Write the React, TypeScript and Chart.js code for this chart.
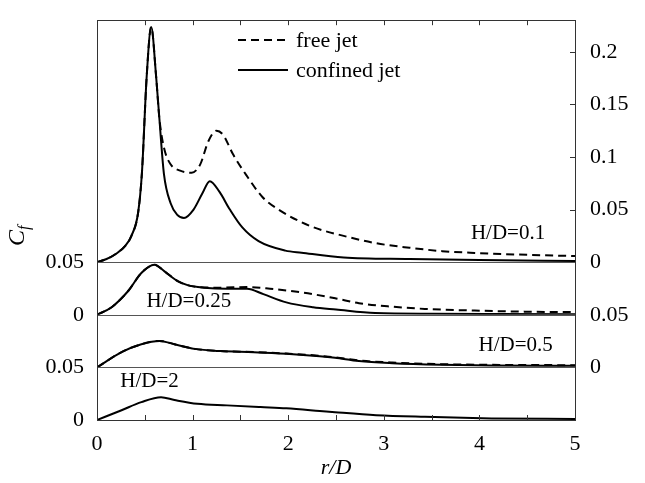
import React, { useEffect, useRef } from 'react';
import { Chart, registerables } from 'chart.js';

Chart.register(...registerables);

const FONT = '"Liberation Serif", "Times New Roman", serif';

// ---- H/D = 0.1 ----
const rConfined01 = [0, 0.1, 0.2, 0.3, 0.36, 0.43, 0.47, 0.52, 0.567, 0.618, 0.652, 0.7, 0.77, 0.84, 0.91, 1.01, 1.1, 1.18, 1.28, 1.39, 1.52, 1.69, 1.97, 2.14, 2.58, 3.27, 4.0, 5.0];
const cfConfined01 = [0, 0.003, 0.008, 0.016, 0.025, 0.047, 0.085, 0.177, 0.2235, 0.177, 0.137, 0.084, 0.056, 0.045, 0.042, 0.05, 0.065, 0.077, 0.067, 0.05, 0.033, 0.02, 0.011, 0.009, 0.0045, 0.003, 0.002, 0.0012];
const rFree01 = [0, 0.1, 0.2, 0.3, 0.36, 0.43, 0.47, 0.52, 0.567, 0.618, 0.652, 0.7, 0.77, 0.87, 0.99, 1.08, 1.165, 1.25, 1.32, 1.42, 1.56, 1.73, 1.9, 2.24, 2.58, 2.92, 3.27, 3.61, 3.95, 4.5, 5.0];
const cfFree01 = [0, 0.003, 0.008, 0.016, 0.025, 0.047, 0.085, 0.177, 0.2235, 0.177, 0.137, 0.109, 0.093, 0.087, 0.085, 0.093, 0.115, 0.125, 0.121, 0.103, 0.083, 0.062, 0.05, 0.034, 0.025, 0.018, 0.0137, 0.0105, 0.0088, 0.007, 0.0058];

// ---- H/D = 0.25 ----
const rConfined025 = [0, 0.153, 0.326, 0.464, 0.6, 0.706, 0.844, 0.947, 1.12, 1.36, 1.57, 1.74, 1.98, 2.26, 2.5, 2.91, 3.5, 4.2, 5.0];
const cfConfined025 = [0, 0.0072, 0.0226, 0.0397, 0.0475, 0.0413, 0.032, 0.0282, 0.0258, 0.0248, 0.0248, 0.0196, 0.0118, 0.0072, 0.005, 0.0016, 0.001, 0.0008, 0.0006];
const rFree025 = [0, 0.153, 0.326, 0.464, 0.6, 0.706, 0.844, 0.947, 1.12, 1.29, 1.57, 1.81, 2.16, 2.5, 2.74, 3.09, 3.43, 3.95, 4.47, 5.0];
const cfFree025 = [0, 0.0072, 0.0226, 0.0397, 0.0475, 0.0413, 0.032, 0.0282, 0.026, 0.0258, 0.0264, 0.0248, 0.021, 0.0155, 0.011, 0.0077, 0.0056, 0.004, 0.003, 0.0025];

// ---- H/D = 0.5 ----
const rConfined05 = [0, 0.257, 0.464, 0.654, 0.81, 1.02, 1.29, 1.64, 1.98, 2.33, 2.49, 2.74, 3.09, 3.6, 4.13, 5.0];
const cfConfined05 = [0, 0.0145, 0.022, 0.0252, 0.022, 0.0176, 0.0155, 0.0145, 0.013, 0.0106, 0.0091, 0.006, 0.004, 0.0025, 0.0018, 0.0015];
const rFree05 = [0, 0.257, 0.464, 0.654, 0.81, 1.02, 1.29, 1.64, 1.98, 2.33, 2.49, 2.74, 3.09, 3.6, 4.13, 5.0];
const cfFree05 = [0, 0.0145, 0.022, 0.0252, 0.022, 0.0176, 0.0155, 0.0146, 0.0132, 0.011, 0.0096, 0.0066, 0.0046, 0.0031, 0.0024, 0.0021];

// ---- H/D = 2 ----
const rConfined2 = [0, 0.257, 0.464, 0.67, 0.81, 1.05, 1.36, 1.71, 1.98, 2.33, 2.49, 2.92, 3.43, 4.13, 5.0];
const cfConfined2 = [0, 0.0093, 0.017, 0.0216, 0.019, 0.0154, 0.0139, 0.0123, 0.0111, 0.0086, 0.0074, 0.0046, 0.003, 0.0015, 0.001];

const xTickValues = [0, 1, 2, 3, 4, 5];
const panelNames = ['H/D=0.1', 'H/D=0.25', 'H/D=0.5', 'H/D=2'];
const panelMax = [0.23, 0.05, 0.05, 0.05];
const rightTicks01 = [0, 0.05, 0.1, 0.15, 0.2];
const legendNames = ['free jet', 'confined jet'];

const pts = (xs: number[], ys: number[]) => xs.map((x, i) => ({ x, y: ys[i] }));

const line = (label: string, data: any, yAxisID: string, dashed: boolean) => ({
  label,
  data,
  yAxisID,
  borderColor: '#000',
  borderWidth: 2,
  borderDash: dashed ? [8, 5] : [],
  pointRadius: 0,
  fill: false,
  cubicInterpolationMode: 'monotone' as const,
});

const fmt = (v: number) => String(+Number(v).toFixed(2));

export default function App() {
  const ref = useRef<HTMLCanvasElement | null>(null);

  useEffect(() => {
    const canvas = ref.current;
    if (!canvas) return;

    const decor = {
      id: 'decor',
      afterDraw(chart: any) {
        const ctx = chart.ctx;
        const a = chart.chartArea;
        const xs = chart.scales.x;
        const ys = ['p1L', 'p2L', 'p3L', 'p4L'].map((k) => chart.scales[k]);
        ctx.save();
        // separators
        ctx.strokeStyle = '#555';
        ctx.lineWidth = 1;
        for (let i = 0; i < 3; i++) {
          const y = Math.round(ys[i].getPixelForValue(0)) + 0.5;
          ctx.beginPath();
          ctx.moveTo(a.left, y);
          ctx.lineTo(a.right, y);
          ctx.stroke();
        }
        // frame
        ctx.strokeStyle = '#333';
        ctx.strokeRect(Math.round(a.left) + 0.5, Math.round(a.top) + 0.5, Math.round(a.right - a.left), Math.round(a.bottom - a.top));
        // minor ticks on x (top and bottom)
        for (let v = 0.5; v < 5; v += 0.5) {
          const x = Math.round(xs.getPixelForValue(v)) + 0.5;
          ctx.beginPath();
          ctx.moveTo(x, a.top);
          ctx.lineTo(x, a.top + 5);
          ctx.moveTo(x, a.bottom);
          ctx.lineTo(x, a.bottom - 5);
          ctx.stroke();
        }
        // right ticks panel 1
        const r1 = chart.scales.p1R;
        for (const v of rightTicks01.slice(1)) {
          const y = Math.round(r1.getPixelForValue(v)) + 0.5;
          ctx.beginPath();
          ctx.moveTo(a.right - 5, y);
          ctx.lineTo(a.right, y);
          ctx.stroke();
        }
        // panel labels
        ctx.fillStyle = '#000';
        ctx.font = `21px ${FONT}`;
        ctx.textAlign = 'center';
        ctx.textBaseline = 'middle';
        const anchors = [
          [4.3, 0.027],
          [0.96, 0.0125],
          [4.38, 0.021],
          [0.55, 0.037],
        ];
        panelNames.forEach((name, i) => {
          ctx.fillText(name, xs.getPixelForValue(anchors[i][0]), ys[i].getPixelForValue(anchors[i][1]));
        });
        // legend
        ctx.lineWidth = 2;
        ctx.strokeStyle = '#000';
        const lx0 = 238, lx1 = 288;
        const ly = [40, 70];
        ctx.textAlign = 'left';
        ctx.font = `22px ${FONT}`;
        legendNames.forEach((name, i) => {
          ctx.setLineDash(i === 0 ? [8, 5] : []);
          ctx.beginPath();
          ctx.moveTo(lx0, ly[i]);
          ctx.lineTo(lx1, ly[i]);
          ctx.stroke();
          ctx.fillText(name, 296, ly[i] + 1);
        });
        ctx.setLineDash([]);
        // x title
        ctx.font = `italic 22px ${FONT}`;
        ctx.textAlign = 'center';
        ctx.fillText('r/D', (a.left + a.right) / 2, 468);
        // y title C_f rotated
        ctx.translate(18, 235);
        ctx.rotate(-Math.PI / 2);
        ctx.font = `italic 24px ${FONT}`;
        ctx.textAlign = 'left';
        const cw = ctx.measureText('C').width;
        ctx.fillText('C', -(cw + 6) / 2, 0);
        ctx.font = `italic 16px ${FONT}`;
        ctx.fillText('f', -(cw + 6) / 2 + cw, 7);
        ctx.restore();
      },
    };

    const hidden = { display: false };
    const yBase = (i: number, pos: string, stack: string, weight: number) => ({
      type: 'linear' as const,
      position: pos,
      stack,
      stackWeight: panelMax[i],
      weight,
      min: 0,
      max: panelMax[i],
      grid: hidden,
      border: hidden,
    });
    const leftFit = (s: any) => { s.width = 97; };
    const rightFit = (s: any) => { s.width = 70; };
    const labelTicks = (show: boolean, pad: number) => ({
      display: show,
      stepSize: 0.05,
      includeBounds: false,
      color: '#000',
      padding: pad,
      font: { family: FONT, size: 22 },
      callback: (v: any) => fmt(v),
    });

    const chart = new Chart(canvas, {
      type: 'line',
      data: {
        datasets: [
          line('free jet', pts(rFree01, cfFree01), 'p1L', true),
          line('confined jet', pts(rConfined01, cfConfined01), 'p1L', false),
          line('free jet', pts(rFree025, cfFree025), 'p2L', true),
          line('confined jet', pts(rConfined025, cfConfined025), 'p2L', false),
          line('free jet', pts(rFree05, cfFree05), 'p3L', true),
          line('confined jet', pts(rConfined05, cfConfined05), 'p3L', false),
          line('confined jet', pts(rConfined2, cfConfined2), 'p4L', false),
        ],
      },
      options: {
        animation: false,
        responsive: false,
        maintainAspectRatio: false,
        layout: { padding: { top: 8, left: 0, right: 0, bottom: 0 } },
        plugins: { legend: { display: false }, tooltip: { enabled: false } },
        scales: {
          x: {
            type: 'linear',
            position: 'bottom',
            min: 0,
            max: 5,
            grid: hidden,
            border: hidden,
            afterFit: (s: any) => { s.height = 63; },
            afterBuildTicks: (s: any) => { s.ticks = xTickValues.map((v) => ({ value: v })); },
            ticks: { color: '#000', padding: 3, font: { family: FONT, size: 22 }, callback: (v: any) => String(v) },
          },
          p1L: { ...yBase(0, 'left', 'L', 4), afterFit: leftFit, ticks: labelTicks(false, 5) },
          p2L: { ...yBase(1, 'left', 'L', 3), afterFit: leftFit, ticks: labelTicks(true, 5) },
          p3L: { ...yBase(2, 'left', 'L', 2), afterFit: leftFit, ticks: labelTicks(false, 5) },
          p4L: { ...yBase(3, 'left', 'L', 1), afterFit: leftFit, ticks: labelTicks(true, 5) },
          p1R: { ...yBase(0, 'right', 'R', 1), afterFit: rightFit, ticks: labelTicks(true, 7) },
          p2R: { ...yBase(1, 'right', 'R', 2), afterFit: rightFit, ticks: labelTicks(false, 7) },
          p3R: { ...yBase(2, 'right', 'R', 3), afterFit: rightFit, ticks: labelTicks(true, 7) },
          p4R: { ...yBase(3, 'right', 'R', 4), afterFit: rightFit, ticks: labelTicks(false, 7) },
        } as any,
      },
      plugins: [decor],
    });
    return () => chart.destroy();
  }, []);

  return (
    <div style={{ position: 'fixed', left: 0, top: 0, width: 645, height: 483, background: '#fff' }}>
      <canvas ref={ref} width={645} height={483} style={{ width: 645, height: 483, display: 'block' }} />
    </div>
  );
}
